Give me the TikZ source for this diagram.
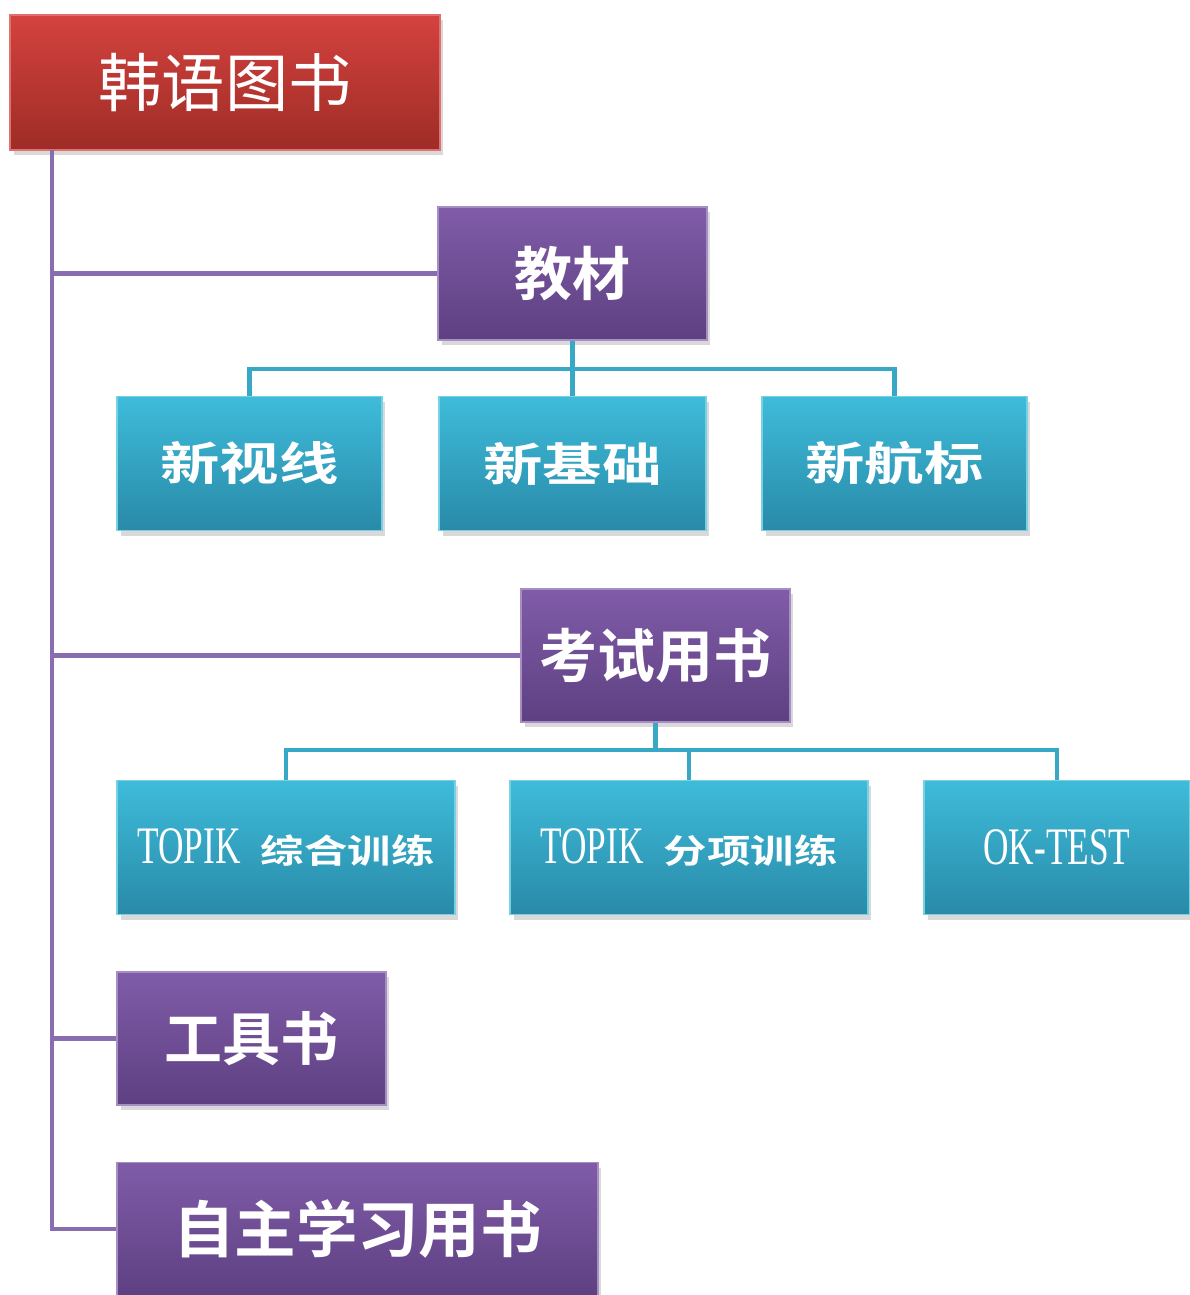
\documentclass[tikz,border=0pt]{standalone}
\usepackage{fontspec}
\newfontfamily\cjk[BoldFont={Noto Sans CJK SC Bold}]{Noto Sans CJK SC}
\newfontfamily\cjkwide[FakeStretch=1.3,BoldFont={Noto Sans CJK SC Bold},BoldFeatures={FakeStretch=1.3}]{Noto Sans CJK SC}
\newfontfamily\narrowserif[FakeStretch=0.67]{Liberation Serif}
\usetikzlibrary{shadows}
\definecolor{rootTop}{RGB}{212,66,62}
\definecolor{rootBot}{RGB}{158,44,38}
\definecolor{purpTop}{RGB}{128,92,168}
\definecolor{purpBot}{RGB}{94,64,130}
\definecolor{cyanTop}{RGB}{62,188,218}
\definecolor{cyanBot}{RGB}{40,138,168}
\definecolor{purpLine}{RGB}{136,110,176}
\definecolor{cyanLine}{RGB}{56,168,198}
\begin{document}
\begin{tikzpicture}[x=0.02cm, y=-0.02cm, line width=2.4pt,
  box/.style={rectangle, line width=0.8pt, text=white, inner sep=0pt,
    drop shadow={opacity=0.3, shadow xshift=2pt, shadow yshift=-3pt}},
  rootbox/.style={box, top color=rootTop, bottom color=rootBot, draw=rootTop!75!white},
  mainbox/.style={box, top color=purpTop, bottom color=purpBot, draw=purpTop!70!white,
    minimum height=2.66cm, font=\cjk\bfseries\fontsize{33}{36}\selectfont},
  subbox/.style={box, top color=cyanTop, bottom color=cyanBot, draw=cyanTop!70!white,
    minimum height=2.68cm},
  trunk/.style={draw=purpLine},
  bus/.style={draw=cyanLine}]
\useasboundingbox (0,0) rectangle (1190,1295);
\clip (0,0) rectangle (1190,1295);

% root and first level
\node[rootbox, minimum width=8.6cm, minimum height=2.7cm, font=\cjk\fontsize{36}{40}\selectfont] (root) at (225,82.5) {韩语图书};
\node[mainbox, minimum width=5.38cm] (jc) at (572.5,273.5) {教材};
\node[mainbox, minimum width=5.38cm] (ks) at (655.5,655.5) {考试用书};
\node[mainbox, minimum width=5.38cm] (gj) at (251.5,1038.5) {工具书};
\node[mainbox, minimum width=9.62cm, font=\cjk\bfseries\fontsize{35}{38}\selectfont] (zz) at (357.5,1229) {自主学习用书};

% textbooks
\node[subbox, minimum width=5.3cm, font=\cjkwide\bfseries\fontsize{26}{30}\selectfont] (xsx) at (249.5,463.5) {新视线};
\node[subbox, minimum width=5.34cm, font=\cjkwide\bfseries\fontsize{26}{30}\selectfont] (xjc) at (572.5,463.5) {新基础};
\node[subbox, minimum width=5.3cm, font=\cjkwide\bfseries\fontsize{26}{30}\selectfont] (xhb) at (894.5,463.5) {新航标};

% exam books
\node[subbox, minimum width=6.76cm, font=\narrowserif\fontsize{30}{34}\selectfont] (zh) at (286,847.5) {TOPIK\hspace{0.4cm}{\cjkwide\bfseries\fontsize{19}{24}\selectfont 综合训练}};
\node[subbox, minimum width=7.16cm, font=\narrowserif\fontsize{30}{34}\selectfont] (fx) at (689,847.5) {TOPIK\hspace{0.4cm}{\cjkwide\bfseries\fontsize{19}{24}\selectfont 分项训练}};
\node[subbox, minimum width=5.32cm, font=\narrowserif\fontsize{30}{34}\selectfont] (ok) at (1057,847.5) {OK-TEST};

% trunk
\coordinate (trunk) at (52,150);
\draw[trunk] (trunk) |- (jc.west);
\draw[trunk] (trunk) |- (ks.west);
\draw[trunk] (trunk) |- (gj.west);
\draw[trunk] (trunk) |- (zz.west);

% buses
\coordinate (bus1) at (572.5,369);
\draw[bus] (jc.south) -- (bus1);
\draw[bus] (bus1) -| (xsx.north);
\draw[bus] (bus1) -- (xjc.north);
\draw[bus] (bus1) -| (xhb.north);
\coordinate (bus2) at (655.5,750);
\draw[bus] (ks.south) -- (bus2);
\draw[bus] (bus2) -| (zh.north);
\draw[bus] (bus2) -| (fx.north);
\draw[bus] (bus2) -| (ok.north);
\end{tikzpicture}
\end{document}
